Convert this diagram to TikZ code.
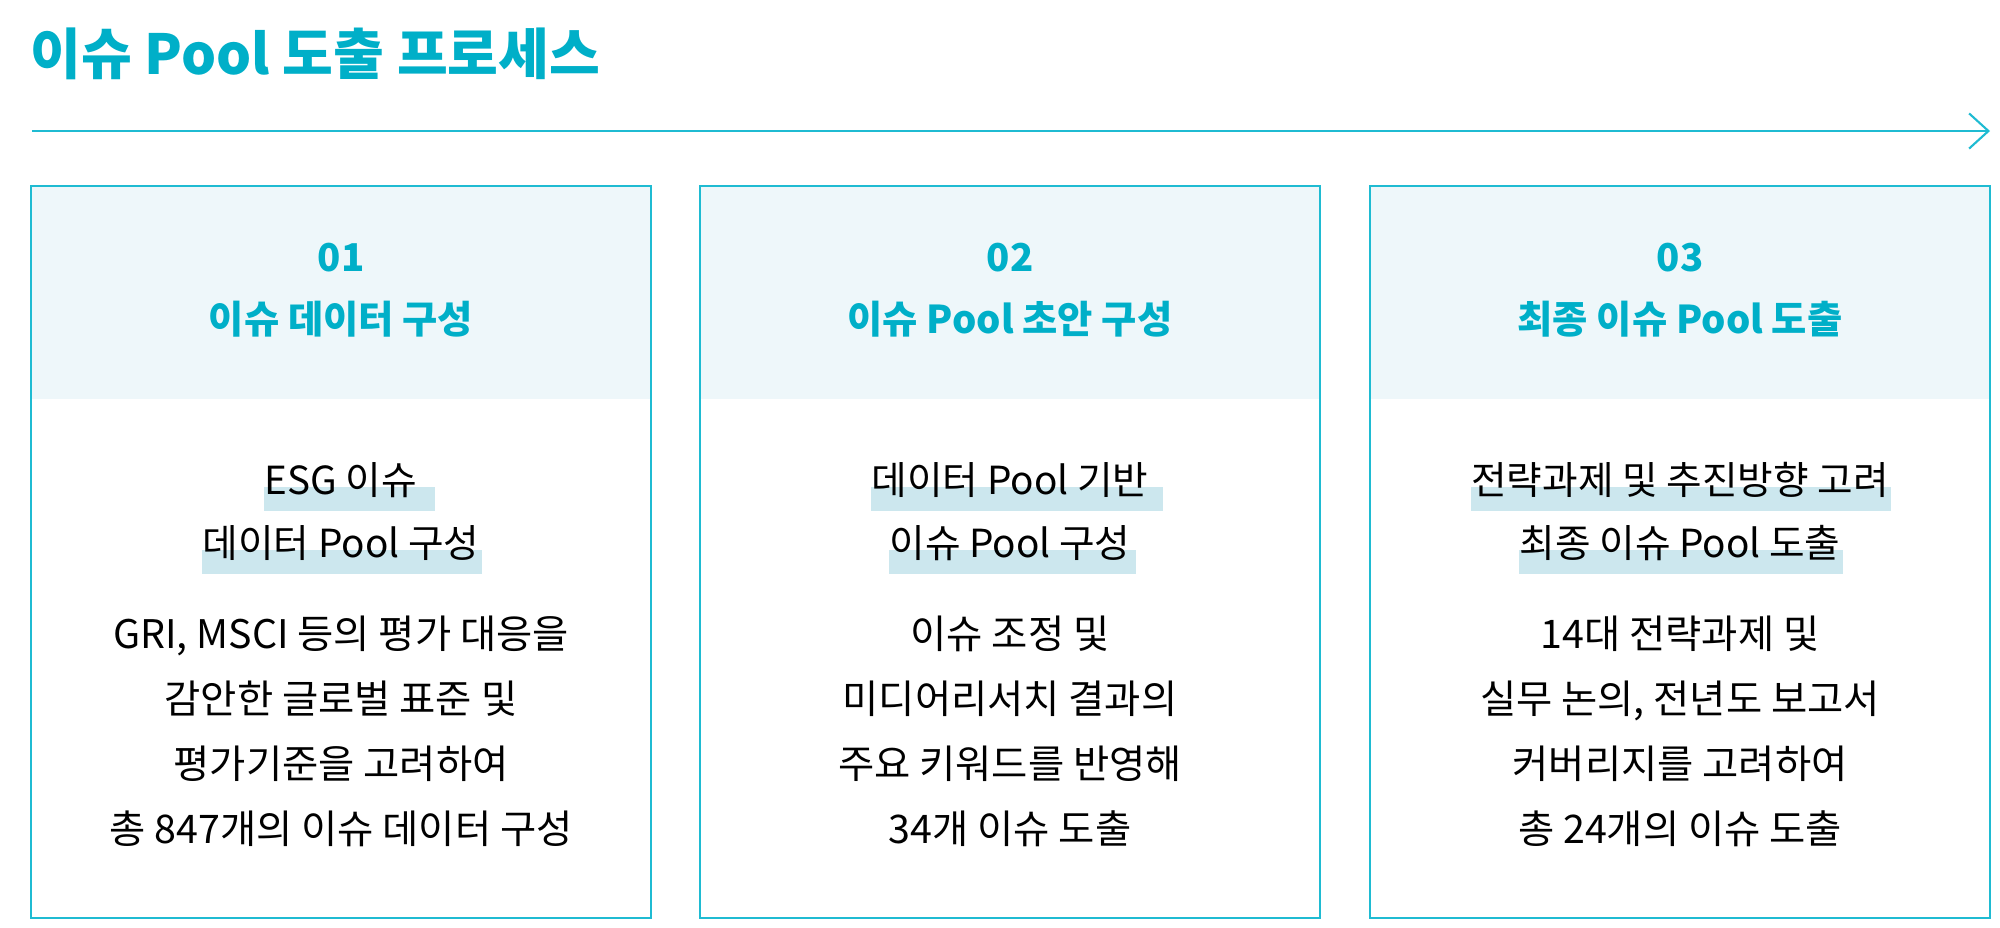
\documentclass[tikz,border=0pt]{standalone}
\usepackage{fontspec}
\setmainfont{Noto Sans CJK KR}
\usetikzlibrary{arrows.meta,backgrounds}
\definecolor{issuecyan}{HTML}{00AFC8}
\definecolor{boxline}{HTML}{1FBBD2}
\definecolor{headfill}{HTML}{EEF7FA}
\definecolor{markfill}{HTML}{CCE7EE}

\begin{document}
\begin{tikzpicture}[x=0.01cm,y=-0.01cm,
  stepframe/.style={draw=boxline,line width=0.6pt,minimum width=6.2cm,minimum height=7.31cm,inner sep=0pt},
  headbox/.style={fill=headfill,minimum width=6.2cm,minimum height=2.12cm,inner sep=0pt},
  headtext/.style={text=issuecyan,font=\fontsize{10.9}{12}\selectfont\bfseries},
  keytext/.style={anchor=base,inner sep=0pt,font=\fontsize{11}{12}\selectfont},
  bodytext/.style={align=center,inner sep=0pt,font=\fontsize{11.2}{18.5}\selectfont}]
\useasboundingbox (0,0) rectangle (2000,927);

% title and flow arrow
\node[anchor=west,inner sep=0pt,text=issuecyan,font=\fontsize{15.7}{17}\selectfont\bfseries] (title) at (30,54) {이슈 Pool 도출 프로세스};
\coordinate (flowstart) at (32,131);
\coordinate (flowend) at (1990,131);
\draw[boxline,line width=0.6pt,-{Straight Barb[length=5.5pt,width=10pt]}] (flowstart) -- (flowend);

% step 01
\node[headbox] (head1) at (341,293) {};
\node[stepframe] (box1) at (341,552) {};
\node[headtext] (num1) at (341,258) {01};
\node[headtext] (name1) at (341,319) {이슈 데이터 구성};
\node[keytext] (key1a) at (341,494) {ESG 이슈};
\node[keytext] (key1b) at (341,557) {데이터 Pool 구성};
\node[bodytext] (body1) at (341,731) {GRI, MSCI 등의 평가 대응을\\감안한 글로벌 표준 및\\평가기준을 고려하여\\총 847개의 이슈 데이터 구성};

% step 02
\node[headbox] (head2) at (1010,293) {};
\node[stepframe] (box2) at (1010,552) {};
\node[headtext] (num2) at (1010,258) {02};
\node[headtext] (name2) at (1010,319) {이슈 Pool 초안 구성};
\node[keytext] (key2a) at (1010,494) {데이터 Pool 기반};
\node[keytext] (key2b) at (1010,557) {이슈 Pool 구성};
\node[bodytext] (body2) at (1010,731) {이슈 조정 및\\미디어리서치 결과의\\주요 키워드를 반영해\\34개 이슈 도출};

% step 03
\node[headbox] (head3) at (1680,293) {};
\node[stepframe] (box3) at (1680,552) {};
\node[headtext] (num3) at (1680,258) {03};
\node[headtext] (name3) at (1680,319) {최종 이슈 Pool 도출};
\node[keytext] (key3a) at (1680,494) {전략과제 및 추진방향 고려};
\node[keytext] (key3b) at (1680,557) {최종 이슈 Pool 도출};
\node[bodytext] (body3) at (1680,731) {14대 전략과제 및\\실무 논의, 전년도 보고서\\커버리지를 고려하여\\총 24개의 이슈 도출};

% marker bars behind the key lines
\begin{scope}[on background layer]
\fill[markfill] ([yshift=-4.8pt]key1a.base west) rectangle ([xshift=5pt,yshift=2pt]key1a.base east);
\fill[markfill] ([yshift=-4.8pt]key1b.base west) rectangle ([xshift=0.5pt,yshift=2pt]key1b.base east);
\fill[markfill] ([yshift=-4.8pt]key2a.base west) rectangle ([xshift=4pt,yshift=2pt]key2a.base east);
\fill[markfill] ([yshift=-4.8pt]key2b.base west) rectangle ([xshift=1.5pt,yshift=2pt]key2b.base east);
\fill[markfill] ([yshift=-4.8pt]key3a.base west) rectangle ([xshift=0.5pt,yshift=2pt]key3a.base east);
\fill[markfill] ([yshift=-4.8pt]key3b.base west) rectangle ([xshift=0.5pt,yshift=2pt]key3b.base east);
\end{scope}
\end{tikzpicture}
\end{document}
